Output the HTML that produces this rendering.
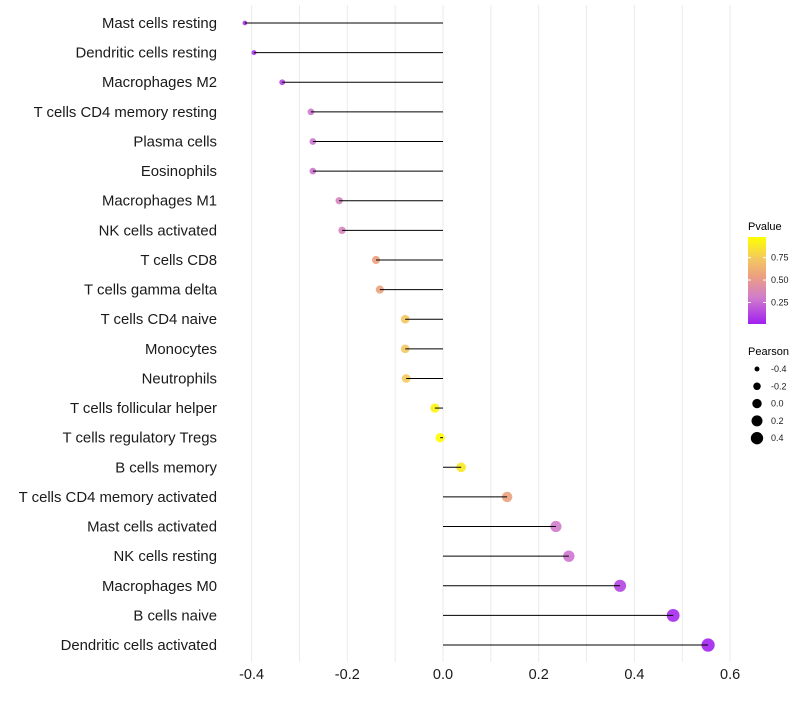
<!DOCTYPE html>
<html><head><meta charset="utf-8"><style>
body{margin:0;background:#fff;font-family:"Liberation Sans",sans-serif}
svg text{font-family:"Liberation Sans",sans-serif}
</style></head><body>
<svg id="chart" width="800" height="700" xmlns="http://www.w3.org/2000/svg">
<defs><linearGradient id="pg" x1="0" y1="1" x2="0" y2="0">
<stop offset="0" stop-color="#a020f0"/><stop offset="0.3" stop-color="#d07ccc"/><stop offset="0.55" stop-color="#eca080"/><stop offset="0.75" stop-color="#f3c860"/><stop offset="1" stop-color="#ffff00"/></linearGradient></defs>
<g id="grid"></g>
<g id="marks"></g>
<g id="ylabels"></g>
<g id="xlabels"></g>
<g>
<text x="748" y="230" font-size="11" fill="#000">Pvalue</text>
<rect x="748" y="237" width="18" height="87" fill="url(#pg)"/>
<g id="cbticks"></g>
</g>
<g id="sizeleg">
<text x="748" y="355" font-size="11" fill="#000">Pearson</text>
</g>
</svg>
<script>
const categories=["Mast cells resting","Dendritic cells resting","Macrophages M2","T cells CD4 memory resting","Plasma cells","Eosinophils","Macrophages M1","NK cells activated","T cells CD8","T cells gamma delta","T cells CD4 naive","Monocytes","Neutrophils","T cells follicular helper","T cells regulatory  Tregs","B cells memory","T cells CD4 memory activated","Mast cells activated","NK cells resting","Macrophages M0","B cells naive","Dendritic cells activated"];
const pearson=[-0.414,-0.395,-0.336,-0.276,-0.272,-0.272,-0.217,-0.211,-0.140,-0.132,-0.079,-0.079,-0.077,-0.017,-0.006,0.038,0.134,0.236,0.263,0.370,0.481,0.554];
const pvalue=[0.05,0.07,0.12,0.28,0.28,0.28,0.35,0.36,0.55,0.56,0.75,0.75,0.76,0.95,0.99,0.9,0.56,0.3,0.28,0.12,0.03,0.01];
const xTicks=[-0.4,-0.2,0.0,0.2,0.4,0.6];
const xTickLabels=["-0.4","-0.2","0.0","0.2","0.4","0.6"];
const cbTicks=[0.25,0.5,0.75];
const cbTickLabels=["0.25","0.50","0.75"];
const sizeBreaks=[-0.4,-0.2,0.0,0.2,0.4];
const sizeLabels=["-0.4","-0.2","0.0","0.2","0.4"];

const NS="http://www.w3.org/2000/svg";
const x=v=>443+v*478.5;
const y=i=>23+i*29.62;
const rad=v=>Math.sqrt(Math.max(1,22+40*v));
function lerp(a,b,t){return a+(b-a)*t}
const stops=[[0,[160,32,240]],[0.3,[208,124,204]],[0.55,[236,160,128]],[0.75,[243,200,96]],[1,[255,255,0]]];
function col(p){
  const t=Math.max(0,Math.min(1,p));
  for(let k=0;k<stops.length-1;k++){
    const [t0,a]=stops[k],[t1,b]=stops[k+1];
    if(t<=t1){const u=(t-t0)/(t1-t0);return `rgb(${Math.round(lerp(a[0],b[0],u))},${Math.round(lerp(a[1],b[1],u))},${Math.round(lerp(a[2],b[2],u))})`;}
  }
  return 'rgb(255,255,0)';
}
function mk(tag,attrs,parent){const e=document.createElementNS(NS,tag);for(const k in attrs)e.setAttribute(k,attrs[k]);parent.appendChild(e);return e;}
const grid=document.getElementById('grid'),marks=document.getElementById('marks'),yl=document.getElementById('ylabels'),xl=document.getElementById('xlabels');
for(let v=-0.4;v<=0.61;v+=0.1){
  const g=mk('line',{x1:x(v),x2:x(v),y1:5,y2:662,stroke:'#ebebeb','stroke-width':1},grid);
  
  
}
xTicks.forEach((v,i)=>{
  const t=mk('text',{x:x(v),y:679,'font-size':14.5,'text-anchor':'middle',fill:'#1a1a1a'},xl);
  t.textContent=xTickLabels[i];
  
  
});
categories.forEach((c,i)=>{
  const t=mk('text',{x:217,y:y(i)+5,'font-size':14.9,'text-anchor':'end',fill:'#1a1a1a'},yl);
  t.textContent=c;
  
  
  const p=mk('circle',{cx:x(pearson[i]),cy:y(i),r:rad(pearson[i]),fill:col(pvalue[i]),'fill-opacity':0.9},marks);
  
  
  const l=mk('line',{x1:x(0),x2:x(pearson[i]),y1:y(i),y2:y(i),stroke:'#000','stroke-width':1},marks);
  
  
});
const cb=document.getElementById('cbticks');
const cy=v=>324-(v-0.01)/0.97*87;
cbTicks.forEach((v,i)=>{
  mk('line',{x1:748,x2:751,y1:cy(v),y2:cy(v),stroke:'#fff'},cb);
  mk('line',{x1:763,x2:766,y1:cy(v),y2:cy(v),stroke:'#fff'},cb);
  const t=mk('text',{x:771,y:cy(v)+3,'font-size':9,fill:'#1a1a1a'},cb);
  t.textContent=cbTickLabels[i];
  
  
});
const sl=document.getElementById('sizeleg');
sizeBreaks.forEach((v,i)=>{
  const yy=369+i*17.3;
  const c=mk('circle',{cx:757,cy:yy,r:rad(v),fill:'#000'},sl);
  
  
  const t=mk('text',{x:771,y:yy+3,'font-size':9,fill:'#1a1a1a'},sl);
  t.textContent=sizeLabels[i];
  
  
});
</script>
</body></html>
